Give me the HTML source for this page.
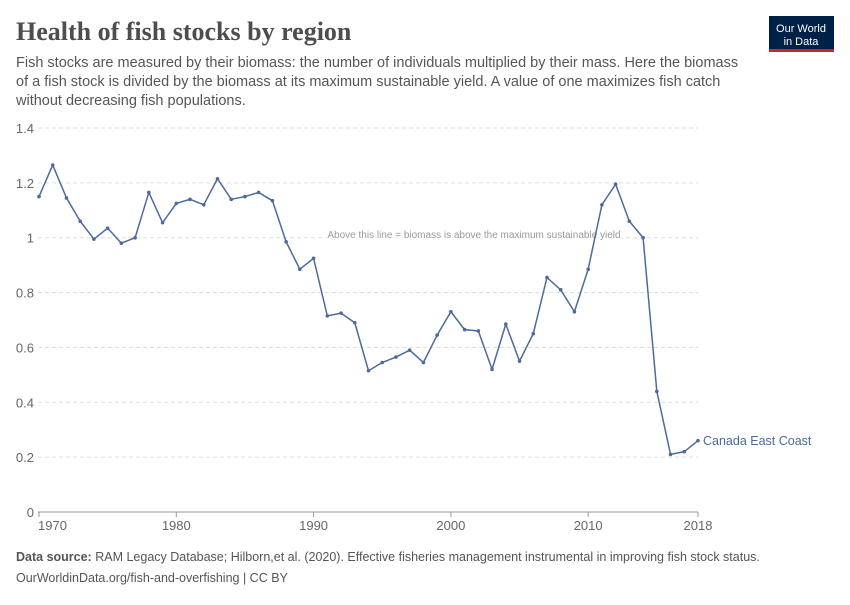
<!DOCTYPE html>
<html><head><meta charset="utf-8"><style>
body{margin:0;background:#fff;width:850px;height:600px;overflow:hidden;font-family:"Liberation Sans",sans-serif}
</style></head><body>
<svg id="s" width="850" height="600" xmlns="http://www.w3.org/2000/svg">
<text x="16" y="40" font-family="Liberation Serif,serif" font-size="26" fill="#4d4d4d" font-weight="bold">Health of fish stocks by region</text>
<text font-size="14.5" fill="#555">
<tspan x="16" y="67">Fish stocks are measured by their biomass: the number of individuals multiplied by their mass. Here the biomass</tspan>
<tspan x="16" y="86">of a fish stock is divided by the biomass at its maximum sustainable yield. A value of one maximizes fish catch</tspan>
<tspan x="16" y="105">without decreasing fish populations.</tspan></text>
<rect x="769" y="16" width="65" height="36" fill="#002147"/>
<rect x="769" y="49" width="65" height="3" fill="#ce261e"/>
<text x="801" y="32" font-size="11" fill="#fff" text-anchor="middle">Our World</text>
<text x="801" y="45" font-size="11" fill="#fff" text-anchor="middle">in Data</text>
<g id="grid"></g>
<text x="474" y="238" font-size="10" fill="#999" text-anchor="middle" stroke="#fff" stroke-width="3" paint-order="stroke">Above this line = biomass is above the maximum sustainable yield</text>
<line x1="38" y1="512" x2="698" y2="512" stroke="#999"/>
<g id="data"></g>
<text x="703" y="445" font-size="12.5" fill="#4c6a9c">Canada East Coast</text>
<text x="16" y="561" font-size="12.5" fill="#555"><tspan font-weight="bold">Data source:</tspan> RAM Legacy Database; Hilborn,et al. (2020). Effective fisheries management instrumental in improving fish stock status.</text>
<text x="16" y="582" font-size="12.5" fill="#555">OurWorldinData.org/fish-and-overfishing | CC BY</text>
</svg>
<script>
var v=[1.15,1.265,1.145,1.06,0.995,1.035,0.98,1.0,1.165,1.055,1.125,1.14,1.12,1.215,1.14,1.15,1.165,1.135,0.985,0.885,0.925,0.715,0.725,0.69,0.515,0.545,0.565,0.59,0.545,0.645,0.73,0.665,0.66,0.52,0.685,0.55,0.65,0.855,0.81,0.73,0.885,1.12,1.195,1.06,1.0,0.44,0.21,0.22,0.26];
function X(i){return 39+i*(698-39)/48}function Y(y){return 512-y*384/1.4}
var g='',NS='http://www.w3.org/2000/svg';
for(var k=1;k<=7;k++){var y=Y(k*0.2);g+='<line x1="38" x2="698" y1="'+y+'" y2="'+y+'" stroke="#ddd" stroke-dasharray="4,3"/><text x="34" y="'+(y+5)+'" font-size="13" fill="#666" text-anchor="end">'+(Math.round(k*2)/10)+'</text>';}
g+='<text x="34" y="517" font-size="13" fill="#666" text-anchor="end">0</text>';
[[1970,'start'],[1980],[1990],[2000],[2010],[2018]].forEach(function(t){var x=X(t[0]-1970);g+='<line x1="'+x+'" x2="'+x+'" y1="512" y2="517" stroke="#999"/><text x="'+(t[0]==1970?38:x)+'" y="530" font-size="13" fill="#666" text-anchor="'+(t[0]==1970?'start':'middle')+'">'+t[0]+'</text>';});
document.getElementById('grid').innerHTML=g;
var p=v.map(function(y,i){return X(i)+','+Y(y)}).join(' ');
var d='<polyline points="'+p+'" fill="none" stroke="#4c6a9c" stroke-width="1.5"/>';
v.forEach(function(y,i){d+='<circle cx="'+X(i)+'" cy="'+Y(y)+'" r="1.8" fill="#4c6a9c"/>'});
document.getElementById('data').innerHTML=d;
</script>
</body></html>
